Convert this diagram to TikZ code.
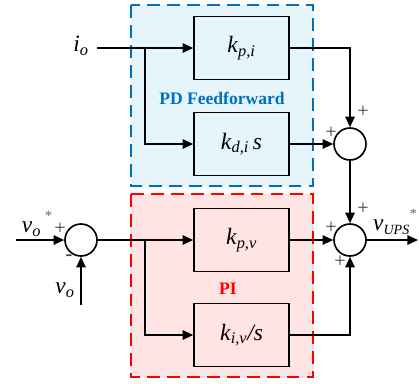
\documentclass[tikz,border=0pt]{standalone}
\usepackage{fontspec}
\setmainfont{Liberation Serif}
\usetikzlibrary{positioning,arrows.meta}
\definecolor{ffblue}{RGB}{0,112,192}
\definecolor{ffbg}{RGB}{230,245,252}
\definecolor{pired}{RGB}{255,0,0}
\definecolor{pibg}{RGB}{255,228,228}
\newcommand{\gvar}[2]{\textit{#1}\textsubscript{\textit{#2}}}
\newcommand{\gstar}{\textcolor{black!60}{\raisebox{1.1ex}{\large*}}}

\begin{document}
\begin{tikzpicture}[x=0.03cm,y=-0.03cm,
    every node/.style={font=\fontsize{20}{24}\selectfont},
    blk/.style={rectangle,draw,line width=1.4pt,minimum width=2.85cm,minimum height=1.89cm},
    sumc/.style={circle,draw,line width=1.4pt,minimum size=0.96cm,inner sep=0pt},
    sig/.style={line width=1.4pt,-{Triangle[length=9pt,width=8pt]}},
    sgn/.style={font=\LARGE,text=black!75,inner sep=0pt},
    region/.style={line width=1.4pt,dash pattern=on 11pt off 6pt},
  ]
  \useasboundingbox (0,0) rectangle (419,383);
  % shaded regions
  \draw[region,draw=ffblue,fill=ffbg] (131,5) rectangle (313,186);
  \draw[region,draw=pired,fill=pibg] (131,194) rectangle (313,377);
  \node[font=\fontsize{15}{18}\selectfont\bfseries,text=ffblue] (pdlab) at (222,98) {PD Feedforward};
  \node[font=\fontsize{15}{18}\selectfont\bfseries,text=pired] (pilab) at (228,289) {PI};
  % blocks
  \node[blk] (kpi) at (241.5,48)  {\gvar{k}{p,i}};
  \node[blk] (kdi) at (241.5,144) {\gvar{k}{d,i}\,\textit{s}};
  \node[blk] (kpv) at (241.5,240) {\gvar{k}{p,v}};
  \node[blk] (kiv) at (241.5,335) {\gvar{k}{i,v}\textit{/s}};
  % summing junctions
  \node[sumc] (s1) at (350,144) {};
  \node[sumc] (s2) at (350,240) {};
  \node[sumc] (s0) at (81,240) {};
  % signals
  \node (io) at (81,46) {\gvar{i}{o}};
  \node (vref) at (37,224) {\gvar{v}{o}\,\gstar};
  \node (vfb) at (65,290) {\gvar{v}{o}};
  \node (vups) at (395,222) {\gvar{v}{\large UPS}\gstar};
  \coordinate (ioin) at (97,48);
  \coordinate (br1) at (145,48);
  \coordinate (vin) at (16,240);
  \coordinate (vfbin) at (81,305);
  \coordinate (br2) at (145,240);
  \coordinate (vout) at (418,240);
  % connectors
  \draw[sig] (ioin) -- (kpi);
  \draw[sig] (br1) |- (kdi);
  \draw[sig] (kpi) -| (s1);
  \draw[sig] (kdi) -- (s1);
  \draw[sig] (s1) -- (s2);
  \draw[sig] (vin) -- (s0);
  \draw[sig] (vfbin) -- (s0);
  \draw[sig] (s0) -- (kpv);
  \draw[sig] (br2) |- (kiv);
  \draw[sig] (kpv) -- (s2);
  \draw[sig] (kiv) -| (s2);
  \draw[sig] (s2) -- (vout);
  % signs
  \node[sgn] (p1a) at (363,112) {+};
  \node[sgn] (p1b) at (331,133) {+};
  \node[sgn] (p2a) at (363,209) {+};
  \node[sgn] (p2b) at (331,228) {+};
  \node[sgn] (p2c) at (340,262) {+};
  \node[sgn] (p0a) at (60,229) {+};
  \node[sgn,font=\LARGE\bfseries] (p0b) at (69,258) {-};
\end{tikzpicture}
\end{document}
